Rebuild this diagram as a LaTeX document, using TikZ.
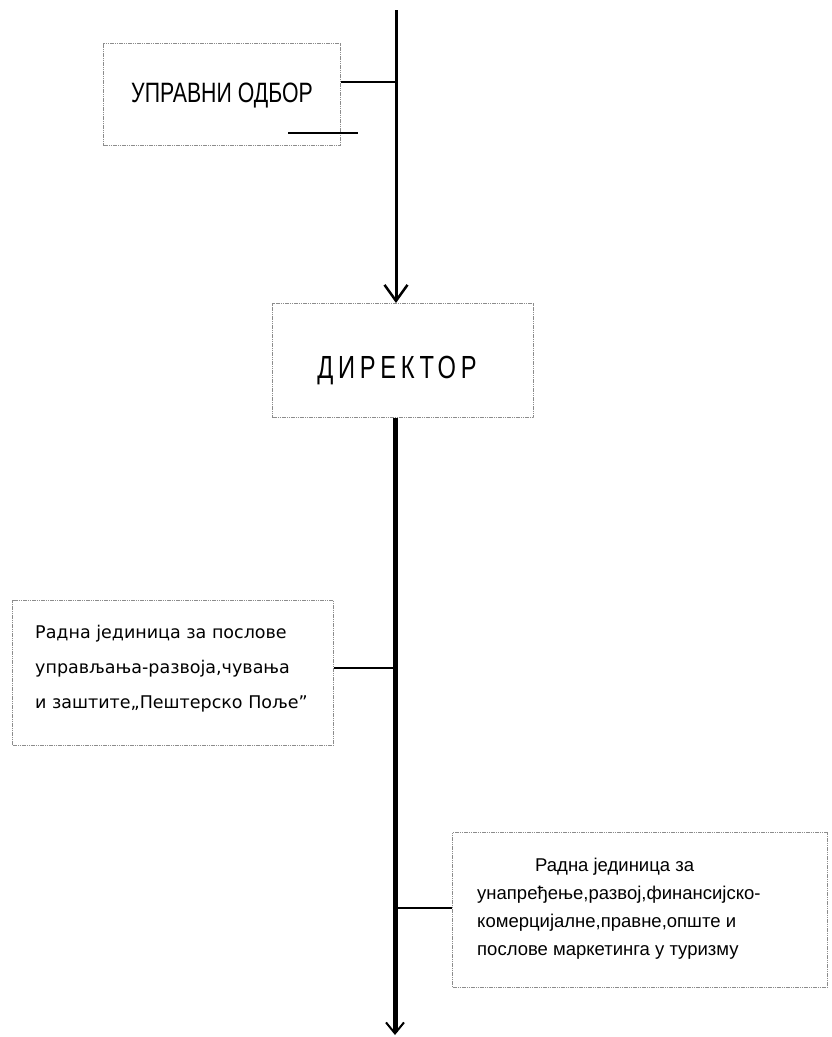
\documentclass[tikz,border=0pt]{standalone}
\usepackage{fontspec}
\setmainfont{Liberation Sans}
\newfontfamily\dvfont{DejaVu Sans}
\usetikzlibrary{arrows.meta}
\begin{document}
\begin{tikzpicture}[x=1pt,y=-1pt,
  box/.style={draw=black!45, line width=1pt, dash pattern=on 1.2pt off 0.6pt, inner sep=0pt, anchor=north west},
  conn/.style={line width=1.5pt},
  txt/.style={inner sep=0pt},
  mainline/.style={line width=3pt},
  thickline/.style={line width=5pt}]
\useasboundingbox (0,0) rectangle (831,1037);
% boxes
\node[box, minimum width=237pt, minimum height=102pt] (b1) at (103,43) {};
\node[box, minimum width=261pt, minimum height=114pt] (dir) at (272,303) {};
\node[box, minimum width=321pt, minimum height=145pt] (b3) at (12,600) {};
\node[box, minimum width=375pt, minimum height=155pt] (b4) at (452,832) {};
% texts
\node[txt, anchor=base] (t1) at (222,102) {\scalebox{0.76}[1]{\fontsize{28}{30}\selectfont УПРАВНИ ОДБОР}};
\node[txt, anchor=base] (t2) at (397,378) {\scalebox{0.74}[1]{\fontsize{32}{34}\selectfont\addfontfeature{LetterSpace=20}ДИРЕКТОР}};
\node[txt, anchor=north west, align=left, font=\dvfont\fontsize{17.5}{35}\selectfont] (t3) at (35,625)
  {Радна јединица за послове\\управљања-развоја,чувања\\и заштите„Пештерско Поље”};
\node[txt, anchor=north west, align=left, font=\fontsize{18.5}{28}\selectfont] (t4) at (477,858)
  {\hspace*{58pt}Радна јединица за\\унапређење,развој,финансијско-\\комерцијалне,правне,опште и\\послове маркетинга у туризму};
% connectors
\coordinate (top) at (396,10);
\coordinate (j1) at (396,82);
\coordinate (s1) at (288,133);
\coordinate (s2) at (358,133);
\coordinate (j3) at (395,668);
\coordinate (j4) at (395,908);
\coordinate (bot) at (395,1035);
\draw[mainline, -{Straight Barb[length=16pt,width=23pt,line width=2.5pt]}] (top) -- (top |- dir.north);
\draw[conn] (b1.east |- j1) -- (j1);
\draw[conn] (s1) -- (s2);
\draw[thickline, -{Straight Barb[length=11pt,width=18pt,line width=2pt]}] (bot |- dir.south) -- (bot);
\draw[conn] (b3.east |- j3) -- (j3);
\draw[conn] (j4) -- (j4 -| b4.west);
\end{tikzpicture}
\end{document}
